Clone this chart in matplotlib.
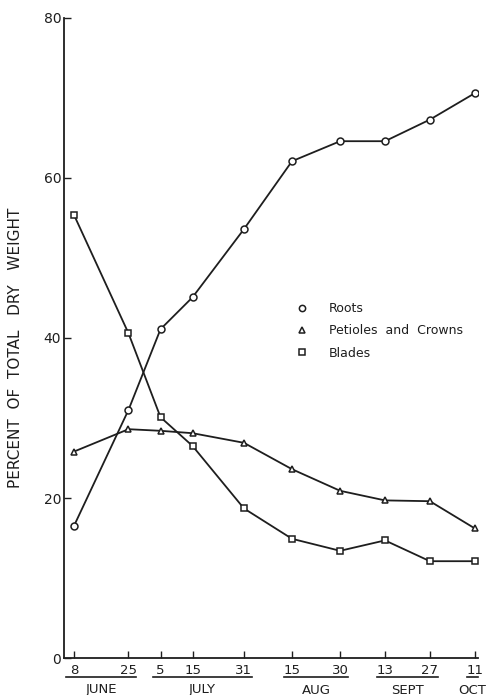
import numpy as np
import pandas as pd
import matplotlib
matplotlib.use('Agg')
import matplotlib.pyplot as plt
import matplotlib.transforms as mtransforms
from matplotlib.lines import Line2D

# Sampling dates and percent of total dry weight
dates = pd.to_datetime(['1950-06-08', '1950-06-25', '1950-07-05', '1950-07-15',
                        '1950-07-31', '1950-08-15', '1950-08-30', '1950-09-13',
                        '1950-09-27', '1950-10-11'])
roots = [16.5, 31.0, 41.1, 45.1, 53.6, 62.1, 64.6, 64.6, 67.3, 70.6]
petioles = [25.8, 28.6, 28.4, 28.1, 26.9, 23.6, 20.9, 19.7, 19.6, 16.2]
blades = [55.4, 40.6, 30.1, 26.5, 18.7, 14.9, 13.4, 14.7, 12.1, 12.1]

months = ['JUNE', 'JULY', 'AUG', 'SEPT', 'OCT']
series_labels = ['Roots', 'Petioles  and  Crowns', 'Blades']
yticks = [0, 20, 40, 60, 80]

days = np.array((dates - dates[0]).days)
month_idx = np.array(dates.month)

ink = '#1e1e1e'
plt.rcParams['font.family'] = ['DejaVu Sans']

fig = plt.figure(figsize=(4.87, 6.95), dpi=100)
ax = fig.add_axes([64 / 487, 37 / 695, 414 / 487, 640 / 695])

style = dict(color=ink, lw=1.3, mfc='white', mec=ink, mew=1.1, ms=5)
ax.plot(days, roots, marker='o', **style)
ax.plot(days, petioles, marker='^', **style)
ax.plot(days, blades, marker='s', **style)

ax.set_xlim(-3.1, 126)
ax.set_ylim(0, 80)
ax.set_yticks(yticks)
ax.set_xticks(days)
ax.set_xticklabels([str(d.day) for d in dates], fontsize=9.5, color=ink)
ax.tick_params(axis='x', direction='in', length=5, width=1, pad=4, colors=ink)
ax.tick_params(axis='y', direction='in', length=5, width=1, pad=2,
               labelsize=10, colors=ink)
for s in ['top', 'right']:
    ax.spines[s].set_visible(False)
for s in ['left', 'bottom']:
    ax.spines[s].set_color(ink)
    ax.spines[s].set_linewidth(1.3)

# month underlines and names below the day labels
trans = mtransforms.blended_transform_factory(ax.transData, ax.transAxes)
for m, name in zip(sorted(set(month_idx)), months):
    d = days[month_idx == m]
    x0, x1 = d.min() - 2.5, d.max() + 2.5
    if m == 10:
        x1 = d.max() + 1
    ax.plot([x0, x1], [-0.030, -0.030], color=ink, lw=1.2,
            transform=trans, clip_on=False)
    ax.text((x0 + x1) / 2, -0.050, name, transform=trans, ha='center',
            va='center', fontsize=9.5, color=ink)

ax.set_ylabel('PERCENT  OF  TOTAL   DRY   WEIGHT', fontsize=11, color=ink)
ax.yaxis.set_label_coords(-0.098, 0.484)

handles = [Line2D([], [], ls='none', marker=mk, mfc='white', mec=ink,
                  mew=1.1, ms=4.5) for mk in ['o', '^', 's']]
ax.legend(handles, series_labels, loc='center left',
          bbox_to_anchor=(0.559, 0.511), frameon=False, fontsize=9,
          handlelength=1.0, handletextpad=1.7, labelspacing=0.75,
          borderpad=0, borderaxespad=0, labelcolor=ink)

plt.savefig('out.png', dpi=100)
